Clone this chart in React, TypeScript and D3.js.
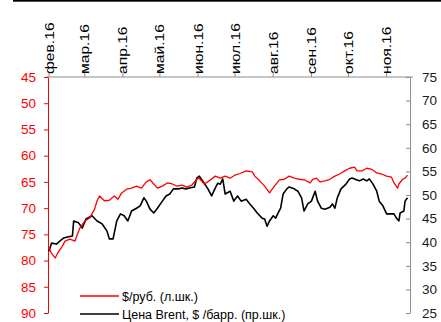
import React, { useRef, useEffect } from 'react';
import * as d3 from 'd3';

const monthTicks = ['2016-02-01', '2016-03-01', '2016-04-01', '2016-05-01', '2016-06-01', '2016-07-01', '2016-08-01', '2016-09-01', '2016-10-01', '2016-11-01'];
const monthLabels = ['фев.16', 'мар.16', 'апр.16', 'май.16', 'июн.16', 'июл.16', 'авг.16', 'сен.16', 'окт.16', 'ноя.16'];
const leftTicks = [45, 50, 55, 60, 65, 70, 75, 80, 85, 90];
const rightTicks = [75, 70, 65, 60, 55, 50, 45, 40, 35, 30, 25];

// $/руб. (left scale, inverted)
const rubDates = [
  '2016-02-01', '2016-02-03', '2016-02-06', '2016-02-08', '2016-02-12', '2016-02-14', '2016-02-18', '2016-02-22',
  '2016-02-26', '2016-03-01', '2016-03-05', '2016-03-09', '2016-03-11', '2016-03-13', '2016-03-17', '2016-03-21',
  '2016-03-25', '2016-03-28', '2016-03-31', '2016-04-04', '2016-04-08', '2016-04-12', '2016-04-16', '2016-04-20',
  '2016-04-23', '2016-04-26', '2016-04-29', '2016-05-03', '2016-05-07', '2016-05-11', '2016-05-15', '2016-05-19',
  '2016-05-23', '2016-05-27', '2016-05-31', '2016-06-02', '2016-06-06', '2016-06-10', '2016-06-15', '2016-06-19',
  '2016-06-23', '2016-06-27', '2016-07-01', '2016-07-05', '2016-07-10', '2016-07-15', '2016-07-17', '2016-07-21',
  '2016-07-25', '2016-07-29', '2016-08-02', '2016-08-06', '2016-08-10', '2016-08-14', '2016-08-18', '2016-08-22',
  '2016-08-26', '2016-08-31', '2016-09-02', '2016-09-05', '2016-09-08', '2016-09-12', '2016-09-16', '2016-09-20',
  '2016-09-24', '2016-09-28', '2016-10-02', '2016-10-06', '2016-10-08', '2016-10-12', '2016-10-16', '2016-10-20',
  '2016-10-24', '2016-10-28', '2016-11-01', '2016-11-05', '2016-11-07', '2016-11-10', '2016-11-11', '2016-11-14',
  '2016-11-16', '2016-11-18',
];
const rubValues = [
  77.6, 78.6, 79.5, 78.6, 77.2, 76.3, 75.9, 76.3,
  73.8, 72.5, 71.9, 70.2, 68.6, 67.7, 68.6, 68.5,
  67.7, 68.3, 67.1, 66.4, 66.2, 65.8, 66.2, 65.0,
  64.6, 65.4, 66.2, 65.8, 65.2, 65.4, 65.8, 65.6,
  66.0, 65.6, 64.5, 64.3, 65.4, 64.8, 63.9, 64.3,
  63.9, 64.3, 63.7, 63.4, 62.9, 63.1, 63.9, 64.8,
  65.8, 67.1, 65.8, 64.6, 64.5, 63.9, 64.3, 64.5,
  64.6, 65.2, 64.5, 64.3, 65.0, 64.8, 64.5, 63.9,
  63.5, 62.9, 62.4, 62.2, 62.9, 62.9, 62.4, 62.6,
  63.3, 63.5, 63.9, 64.1, 65.2, 66.2, 65.4, 64.5,
  64.3, 63.7,
];

// Brent, $/барр. (right scale)
const brentDates = [
  '2016-02-01', '2016-02-03', '2016-02-07', '2016-02-10', '2016-02-13', '2016-02-16', '2016-02-20', '2016-02-21',
  '2016-02-25', '2016-02-28', '2016-03-02', '2016-03-07', '2016-03-11', '2016-03-15', '2016-03-19', '2016-03-21',
  '2016-03-24', '2016-03-27', '2016-03-30', '2016-04-02', '2016-04-05', '2016-04-08', '2016-04-12', '2016-04-15',
  '2016-04-18', '2016-04-20', '2016-04-23', '2016-04-26', '2016-04-29', '2016-05-03', '2016-05-06', '2016-05-09',
  '2016-05-12', '2016-05-16', '2016-05-19', '2016-05-22', '2016-05-25', '2016-05-29', '2016-05-31', '2016-06-02',
  '2016-06-06', '2016-06-09', '2016-06-12', '2016-06-15', '2016-06-17', '2016-06-19', '2016-06-21', '2016-06-23',
  '2016-06-27', '2016-06-30', '2016-07-03', '2016-07-06', '2016-07-10', '2016-07-13', '2016-07-16', '2016-07-19',
  '2016-07-23', '2016-07-25', '2016-07-27', '2016-07-29', '2016-08-01', '2016-08-03', '2016-08-05', '2016-08-07',
  '2016-08-09', '2016-08-12', '2016-08-14', '2016-08-18', '2016-08-21', '2016-08-24', '2016-08-26', '2016-08-29',
  '2016-09-01', '2016-09-04', '2016-09-06', '2016-09-09', '2016-09-12', '2016-09-16', '2016-09-18', '2016-09-20',
  '2016-09-22', '2016-09-25', '2016-09-29', '2016-10-02', '2016-10-04', '2016-10-08', '2016-10-10', '2016-10-13',
  '2016-10-16', '2016-10-18', '2016-10-21', '2016-10-24', '2016-10-26', '2016-10-29', '2016-11-01', '2016-11-03',
  '2016-11-07', '2016-11-09', '2016-11-11', '2016-11-12', '2016-11-15', '2016-11-16', '2016-11-18',
];
const brentValues = [
  38.1, 39.8, 39.6, 40.3, 40.9, 41.1, 41.3, 44.5,
  44.1, 43.0, 44.9, 45.6, 44.5, 43.9, 42.4, 40.7,
  40.7, 44.5, 46.0, 45.6, 44.5, 46.6, 47.2, 47.7,
  49.4, 48.7, 47.0, 46.2, 47.2, 48.7, 49.8, 50.2,
  51.3, 51.3, 51.5, 51.3, 51.5, 51.7, 53.6, 54.0,
  52.5, 51.3, 49.8, 51.5, 52.5, 52.3, 53.4, 50.2,
  50.8, 48.7, 49.8, 48.7, 49.1, 48.1, 47.2, 46.2,
  45.1, 44.9, 43.4, 44.5, 45.6, 45.1, 46.2, 47.2,
  50.2, 51.3, 51.7, 51.3, 50.8, 49.4, 46.6, 48.1,
  48.7, 50.8, 48.7, 47.2, 47.0, 47.4, 48.1, 47.2,
  49.4, 51.3, 52.3, 53.4, 53.6, 53.2, 53.0, 53.4,
  53.0, 53.4, 52.3, 50.8, 48.7, 47.7, 46.0, 46.0,
  46.0, 45.1, 44.5, 46.2, 46.6, 48.7, 49.4,
];

const legendItems = ['$/руб. (л.шк.)', 'Цена Brent, $ /барр. (пр.шк.)'];

const FONT = '"Liberation Sans", Arial, sans-serif';

const App = () => {
  const svgRef = useRef<SVGSVGElement>(null);

  useEffect(() => {
    const svg = d3.select(svgRef.current);
    svg.selectAll('*').remove();

    const parse = d3.timeParse('%Y-%m-%d');

    // scales
    const x = d3.scaleTime()
      .domain([parse('2016-02-01') as Date, parse('2016-11-20') as Date])
      .range([49, 410]);
    const yLeft = d3.scaleLinear().domain([45, 90]).range([77, 313]);
    const yRight = d3.scaleLinear().domain([75, 25]).range([77, 313]);

    // top border
    svg.append('rect')
      .attr('x', 13).attr('y', 0)
      .attr('width', 428).attr('height', 1.7)
      .attr('fill', '#000');

    // top (date) axis
    svg.append('line')
      .attr('x1', 46).attr('x2', 413)
      .attr('y1', 77).attr('y2', 77)
      .attr('stroke', '#8c8c8c');

    const months = monthTicks.map(d => parse(d) as Date);
    svg.append('g')
      .selectAll('line')
      .data(months)
      .enter()
      .append('line')
      .attr('x1', d => x(d)).attr('x2', d => x(d))
      .attr('y1', 77).attr('y2', 72)
      .attr('stroke', '#8c8c8c');

    const labels = svg.append('g')
      .selectAll('text')
      .data(months)
      .enter()
      .append('text')
      .attr('transform', d => `translate(${x(d)},74) rotate(-90)`)
      .attr('dy', '0.36em')
      .style('font-family', FONT)
      .style('font-size', '12.5px')
      .attr('fill', '#000')
      .text((d, i) => monthLabels[i]);

    // stretch the rotated labels like the original
    labels.each(function () {
      const el = this as SVGTextElement;
      const len = el.getComputedTextLength();
      el.setAttribute('textLength', String(len * 1.25));
      el.setAttribute('lengthAdjust', 'spacingAndGlyphs');
    });

    // left axis
    const gLeft = svg.append('g')
      .attr('transform', 'translate(48,0)')
      .call(d3.axisLeft(yLeft).tickValues(leftTicks).tickSize(4).tickSizeOuter(0).tickPadding(8));
    gLeft.select('.domain').attr('stroke', '#ff0000');
    gLeft.selectAll('.tick line').attr('stroke', '#ff0000');
    gLeft.selectAll('.tick text')
      .attr('fill', '#ff0000')
      .style('font-family', FONT)
      .style('font-size', '13.5px');

    // right axis
    const gRight = svg.append('g')
      .attr('transform', 'translate(410,0)')
      .call(d3.axisRight(yRight).tickValues(rightTicks).tickSizeInner(-4).tickSizeOuter(0).tickPadding(12));
    gRight.select('.domain').attr('stroke', '#8c8c8c');
    gRight.selectAll('.tick line').attr('stroke', '#8c8c8c');
    gRight.selectAll('.tick text')
      .attr('fill', '#1a1a1a')
      .style('font-family', FONT)
      .style('font-size', '13.5px');

    // series
    const rubData: [Date, number][] = rubDates.map((d, i) => [parse(d) as Date, rubValues[i]]);
    const brentData: [Date, number][] = brentDates.map((d, i) => [parse(d) as Date, brentValues[i]]);

    const rubLine = d3.line<[Date, number]>()
      .x(d => x(d[0]))
      .y(d => yLeft(d[1]));
    const brentLine = d3.line<[Date, number]>()
      .x(d => x(d[0]))
      .y(d => yRight(d[1]));

    svg.append('path')
      .datum(brentData)
      .attr('d', brentLine)
      .attr('fill', 'none')
      .attr('stroke', '#000')
      .attr('stroke-width', 1.6)
      .attr('stroke-linejoin', 'round');

    svg.append('path')
      .datum(rubData)
      .attr('d', rubLine)
      .attr('fill', 'none')
      .attr('stroke', '#ff0000')
      .attr('stroke-width', 1.3)
      .attr('stroke-linejoin', 'round');

    // legend
    const legendColors = ['#ff0000', '#000'];
    const legend = svg.append('g');
    legendItems.forEach((label, i) => {
      const ly = 296 + i * 18;
      legend.append('line')
        .attr('x1', 80).attr('x2', 119)
        .attr('y1', ly).attr('y2', ly)
        .attr('stroke', legendColors[i])
        .attr('stroke-width', 1.3);
      legend.append('text')
        .attr('x', 122).attr('y', ly)
        .attr('dy', '0.36em')
        .style('font-family', FONT)
        .style('font-size', '12.5px')
        .attr('fill', '#000')
        .text(label);
    });
  }, []);

  return (
    <svg
      ref={svgRef}
      width={441}
      height={322}
      style={{ position: 'absolute', left: 0, top: 0, background: '#fff' }}
    />
  );
};

export default App;
